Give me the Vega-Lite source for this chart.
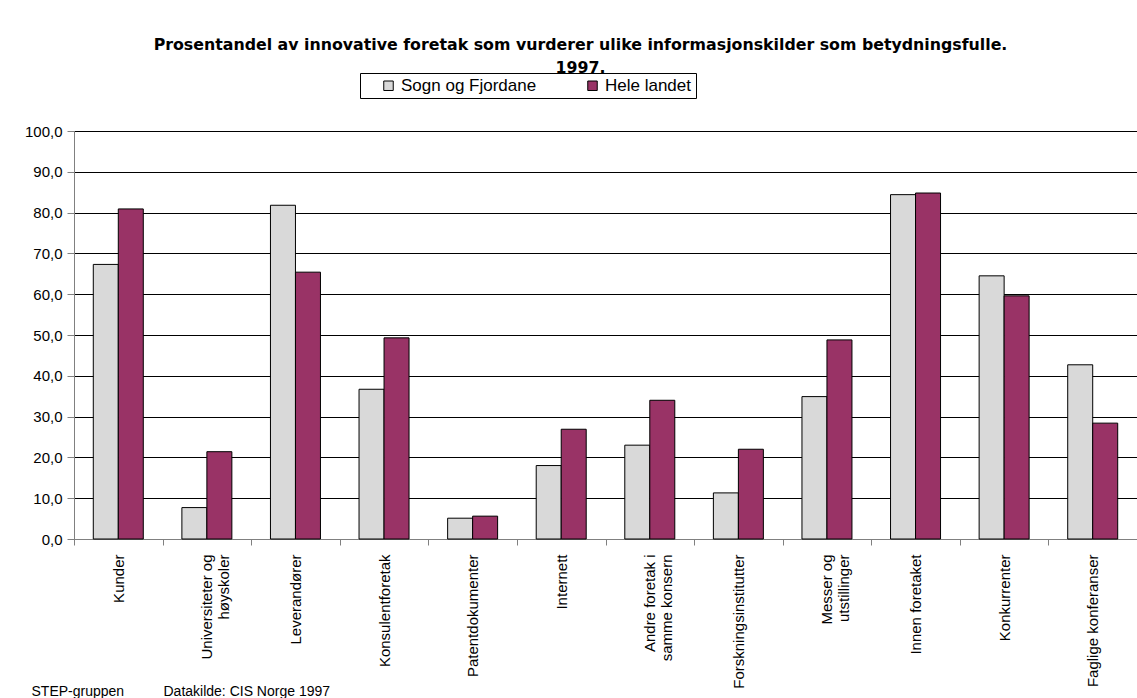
{
  "$schema": "https://vega.github.io/schema/vega-lite/v6.json",
  "width": 1063,
  "height": 408,
  "autosize": {"type": "none"},
  "padding": {"left": 74, "top": 131, "right": 0, "bottom": 159},
  "background": "white",
  "title": {
    "text": ["Prosentandel av innovative foretak som vurderer ulike informasjonskilder som betydningsfulle.", "1997."],
    "font": "DejaVu Sans",
    "fontSize": 15.8,
    "fontWeight": "bold",
    "color": "black",
    "anchor": "middle",
    "frame": "group",
    "dx": -25,
    "offset": -4,
    "lineHeight": 23
  },
  "data": {
    "values": [
      {"kilde": "Kunder", "region": "Sogn og Fjordane", "andel": 67.3},
      {"kilde": "Kunder", "region": "Hele landet", "andel": 80.9},
      {"kilde": "Universiteter og høyskoler", "region": "Sogn og Fjordane", "andel": 7.7},
      {"kilde": "Universiteter og høyskoler", "region": "Hele landet", "andel": 21.4},
      {"kilde": "Leverandører", "region": "Sogn og Fjordane", "andel": 81.8},
      {"kilde": "Leverandører", "region": "Hele landet", "andel": 65.4},
      {"kilde": "Konsulentforetak", "region": "Sogn og Fjordane", "andel": 36.7},
      {"kilde": "Konsulentforetak", "region": "Hele landet", "andel": 49.3},
      {"kilde": "Patentdokumenter", "region": "Sogn og Fjordane", "andel": 5.1},
      {"kilde": "Patentdokumenter", "region": "Hele landet", "andel": 5.6},
      {"kilde": "Internett", "region": "Sogn og Fjordane", "andel": 18.0},
      {"kilde": "Internett", "region": "Hele landet", "andel": 26.9},
      {"kilde": "Andre foretak i samme konsern", "region": "Sogn og Fjordane", "andel": 23.0},
      {"kilde": "Andre foretak i samme konsern", "region": "Hele landet", "andel": 34.0},
      {"kilde": "Forskningsinstitutter", "region": "Sogn og Fjordane", "andel": 11.3},
      {"kilde": "Forskningsinstitutter", "region": "Hele landet", "andel": 22.0},
      {"kilde": "Messer og utstillinger", "region": "Sogn og Fjordane", "andel": 34.9},
      {"kilde": "Messer og utstillinger", "region": "Hele landet", "andel": 48.8},
      {"kilde": "Innen foretaket", "region": "Sogn og Fjordane", "andel": 84.4},
      {"kilde": "Innen foretaket", "region": "Hele landet", "andel": 84.8},
      {"kilde": "Konkurrenter", "region": "Sogn og Fjordane", "andel": 64.5},
      {"kilde": "Konkurrenter", "region": "Hele landet", "andel": 59.6},
      {"kilde": "Faglige konferanser", "region": "Sogn og Fjordane", "andel": 42.7},
      {"kilde": "Faglige konferanser", "region": "Hele landet", "andel": 28.4}
    ]
  },
  "mark": {"type": "bar", "stroke": "black", "strokeWidth": 1},
  "encoding": {
    "x": {
      "field": "kilde",
      "type": "nominal",
      "sort": null,
      "scale": {"paddingInner": 0, "paddingOuter": 0},
      "axis": {
        "title": "STEP-gruppen",
        "titleFont": "Liberation Sans",
        "titleFontSize": 14,
        "titleFontWeight": "normal",
        "titleColor": "black",
        "titleAnchor": "start",
        "titleAlign": "left",
        "titleBaseline": "alphabetic",
        "titleX": -43,
        "titleY": 156,
        "labelAngle": -90,
        "labelFont": "Liberation Sans",
        "labelFontSize": 15,
        "labelColor": "black",
        "labelPadding": 9,
        "labelLineHeight": 17,
        "labelLimit": 200,
        "labelExpr": "datum.label == 'Universiteter og høyskoler' ? ['Universiteter og', 'høyskoler'] : datum.label == 'Andre foretak i samme konsern' ? ['Andre foretak i', 'samme konsern'] : datum.label == 'Messer og utstillinger' ? ['Messer og', 'utstillinger'] : datum.label",
        "tickBand": "extent",
        "tickSize": 6,
        "tickColor": "#808080",
        "domainColor": "#808080",
        "grid": false
      }
    },
    "xOffset": {
      "field": "region",
      "type": "nominal",
      "sort": ["Sogn og Fjordane", "Hele landet"],
      "scale": {"paddingInner": 0, "paddingOuter": 0.772}
    },
    "y": {
      "field": "andel",
      "type": "quantitative",
      "scale": {"domain": [0, 100], "nice": false},
      "axis": {
        "title": "Datakilde: CIS Norge 1997",
        "titleFont": "Liberation Sans",
        "titleFontSize": 14,
        "titleFontWeight": "normal",
        "titleColor": "black",
        "titleAngle": 0,
        "titleAlign": "left",
        "titleBaseline": "alphabetic",
        "titleX": 89,
        "titleY": 564,
        "values": [0, 10, 20, 30, 40, 50, 60, 70, 80, 90, 100],
        "labelExpr": "replace(format(datum.value, '.1f'), '.', ',')",
        "labelFont": "Liberation Sans",
        "labelFontSize": 15,
        "labelColor": "black",
        "labelPadding": 5,
        "tickSize": 7,
        "tickColor": "#808080",
        "domainColor": "#808080",
        "grid": true,
        "gridColor": "#000000",
        "gridWidth": 1
      }
    },
    "color": {
      "field": "region",
      "type": "nominal",
      "sort": ["Sogn og Fjordane", "Hele landet"],
      "scale": {"domain": ["Sogn og Fjordane", "Hele landet"], "range": ["#d9d9d9", "#993366"]},
      "legend": {
        "title": null,
        "orient": "none",
        "direction": "horizontal",
        "legendX": 286,
        "legendY": -58,
        "strokeColor": "black",
        "fillColor": "white",
        "padding": 4,
        "symbolType": "square",
        "symbolSize": 90,
        "symbolStrokeColor": "black",
        "symbolStrokeWidth": 1,
        "symbolOpacity": 1,
        "symbolOffset": 16,
        "labelOffset": 4,
        "labelFont": "Liberation Sans",
        "labelFontSize": 17,
        "labelColor": "black",
        "columnPadding": 31,
        "labelExpr": "datum.label == 'Hele landet' ? datum.label + '\u2003' : datum.label"
      }
    }
  },
  "config": {
    "view": {"stroke": null}
  }
}
